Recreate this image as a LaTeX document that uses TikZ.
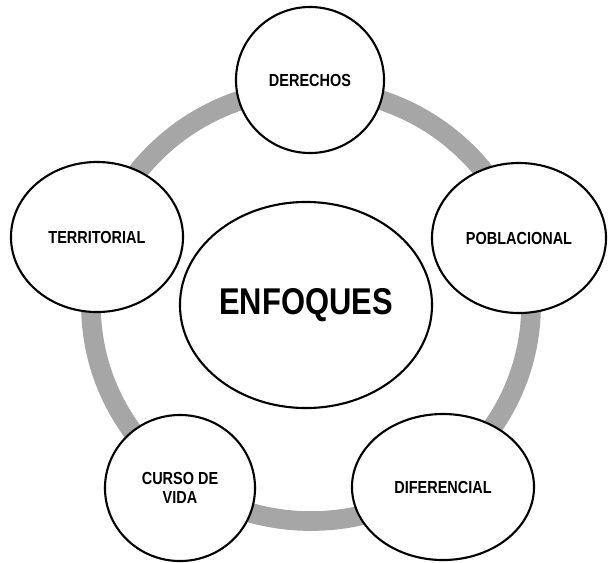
\documentclass[tikz,border=0pt]{standalone}
\usepackage{fontspec}
\newfontfamily\lblfont{Liberation Sans}[FakeStretch=0.83]
\usetikzlibrary{shapes.geometric}

\begin{document}
\begin{tikzpicture}[x=0.025cm, y=-0.025cm,
  ring/.style={draw=black!35, line width=14pt},
  enf/.style={ellipse, draw, line width=1.5pt, fill=white, inner sep=0pt, align=center,
    font=\lblfont\bfseries\fontsize{12.4}{13.5}\selectfont}]
\useasboundingbox (0,0) rectangle (608,562);
\draw[ring] (311,305) ellipse [x radius=5.5cm, y radius=5.4cm];
\node[enf, minimum width=6.3cm, minimum height=5.15cm, font=\lblfont\bfseries\fontsize{26.5}{30}\selectfont] (E) at (306,305) {ENFOQUES};
\node[enf, minimum width=3.7cm, minimum height=3.65cm] (D) at (310,80) {DERECHOS};
\node[enf, minimum width=4.35cm, minimum height=3.75cm] (P) at (519,238) {POBLACIONAL};
\node[enf, minimum width=4.55cm, minimum height=3.65cm] (Df) at (443,487) {DIFERENCIAL};
\node[enf, minimum width=3.75cm, minimum height=3.65cm] (C) at (180,488) {CURSO DE\\VIDA};
\node[enf, minimum width=4.3cm, minimum height=3.75cm] (T) at (97,237) {TERRITORIAL};
\end{tikzpicture}
\end{document}
